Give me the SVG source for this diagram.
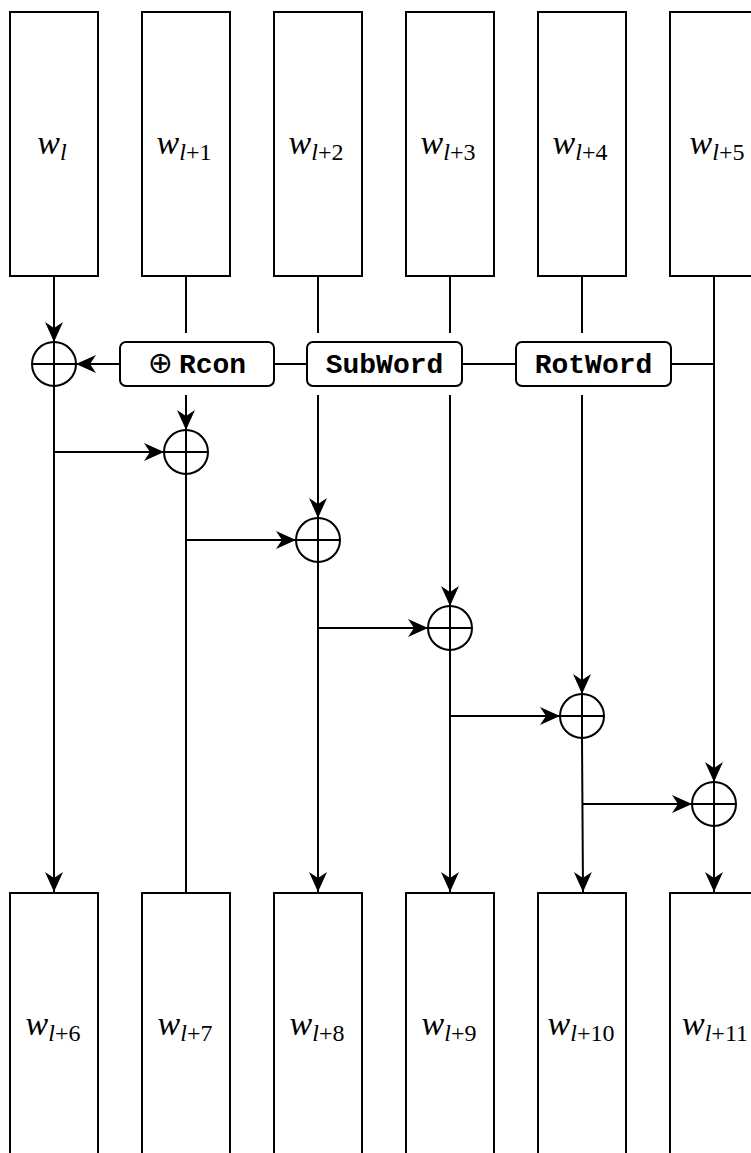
<svg xmlns="http://www.w3.org/2000/svg" width="751" height="1153" viewBox="0 0 751 1153">
<style>
.box{fill:#fff;stroke:#000;stroke-width:2}
.op{fill:#fff;stroke:#000;stroke-width:2}
.ln{fill:none;stroke:#000;stroke-width:2}
.fn{fill:#fff;stroke:#000;stroke-width:2}
.w{font-family:"Liberation Serif",serif;font-style:italic;font-size:34px;fill:#000}
.s{font-size:24px}
.n{font-style:normal}
.tt{font-family:"Liberation Mono",monospace;font-size:28px;font-weight:bold;fill:#000}
.sym{font-family:"DejaVu Sans",sans-serif;font-size:30px;font-weight:normal}
</style>
<defs>
<marker id="ah" markerUnits="userSpaceOnUse" markerWidth="24" markerHeight="24" viewBox="-22 -11 24 22" refX="0" refY="0" orient="auto">
<path d="M0,0 L-20,-9 L-14,0 L-20,9 Z" fill="#000"/>
</marker>
</defs>
<g id="connectors">
<line class="ln" x1="54" y1="276" x2="54" y2="342" marker-end="url(#ah)"/>
<line class="ln" x1="186" y1="276" x2="186" y2="333"/>
<line class="ln" x1="318" y1="276" x2="318" y2="333"/>
<line class="ln" x1="450" y1="276" x2="450" y2="333"/>
<line class="ln" x1="582" y1="276" x2="582" y2="333"/>
<line class="ln" x1="714" y1="276" x2="714" y2="782" marker-end="url(#ah)"/>
<line class="ln" x1="120" y1="364" x2="76" y2="364" marker-end="url(#ah)"/>
<line class="ln" x1="274" y1="364" x2="307" y2="364"/>
<line class="ln" x1="462" y1="364" x2="516" y2="364"/>
<line class="ln" x1="671" y1="364" x2="714" y2="364"/>
<line class="ln" x1="186" y1="395" x2="186" y2="430" marker-end="url(#ah)"/>
<line class="ln" x1="318" y1="395" x2="318" y2="518" marker-end="url(#ah)"/>
<line class="ln" x1="450" y1="395" x2="450" y2="606" marker-end="url(#ah)"/>
<line class="ln" x1="582" y1="395" x2="582" y2="694" marker-end="url(#ah)"/>
<line class="ln" x1="54" y1="452" x2="164" y2="452" marker-end="url(#ah)"/>
<line class="ln" x1="186" y1="540" x2="296" y2="540" marker-end="url(#ah)"/>
<line class="ln" x1="318" y1="628" x2="428" y2="628" marker-end="url(#ah)"/>
<line class="ln" x1="450" y1="716" x2="560" y2="716" marker-end="url(#ah)"/>
<line class="ln" x1="582" y1="804" x2="692" y2="804" marker-end="url(#ah)"/>
<line class="ln" x1="54" y1="386" x2="54" y2="892" marker-end="url(#ah)"/>
<line class="ln" x1="186" y1="474" x2="186" y2="892"/>
<line class="ln" x1="318" y1="562" x2="318" y2="892" marker-end="url(#ah)"/>
<line class="ln" x1="450" y1="650" x2="450" y2="892" marker-end="url(#ah)"/>
<line class="ln" x1="582" y1="738" x2="583" y2="892" marker-end="url(#ah)"/>
<line class="ln" x1="714" y1="826" x2="714" y2="892" marker-end="url(#ah)"/>
</g>
<g id="w0"><rect class="box" x="10" y="12" width="88" height="264"/><text class="w" x="52" y="154" text-anchor="middle">w<tspan class="s" dy="6">l</tspan></text></g>
<g id="w1"><rect class="box" x="142" y="12" width="88" height="264"/><text class="w" x="184" y="154" text-anchor="middle">w<tspan class="s" dy="6">l</tspan><tspan class="s n">+1</tspan></text></g>
<g id="w2"><rect class="box" x="274" y="12" width="88" height="264"/><text class="w" x="316" y="154" text-anchor="middle">w<tspan class="s" dy="6">l</tspan><tspan class="s n">+2</tspan></text></g>
<g id="w3"><rect class="box" x="406" y="12" width="88" height="264"/><text class="w" x="448" y="154" text-anchor="middle">w<tspan class="s" dy="6">l</tspan><tspan class="s n">+3</tspan></text></g>
<g id="w4"><rect class="box" x="538" y="12" width="88" height="264"/><text class="w" x="580" y="154" text-anchor="middle">w<tspan class="s" dy="6">l</tspan><tspan class="s n">+4</tspan></text></g>
<g id="w5"><rect class="box" x="670" y="12" width="88" height="264"/><text class="w" x="717" y="154" text-anchor="middle">w<tspan class="s" dy="6">l</tspan><tspan class="s n">+5</tspan></text></g>
<g id="rcon"><rect class="fn" x="120" y="342" width="154" height="44" rx="6"/><text class="tt" x="197" y="373" text-anchor="middle"><tspan class="sym">⊕</tspan><tspan dx="6">Rcon</tspan></text></g>
<g id="subword"><rect class="fn" x="307" y="342" width="155" height="44" rx="6"/><text class="tt" x="384.5" y="373" text-anchor="middle">SubWord</text></g>
<g id="rotword"><rect class="fn" x="516" y="342" width="155" height="44" rx="6"/><text class="tt" x="593.5" y="373" text-anchor="middle">RotWord</text></g>
<g id="x0"><circle class="op" cx="54" cy="364" r="22"/><path class="ln" d="M32,364H76M54,342V386"/></g>
<g id="x1"><circle class="op" cx="186" cy="452" r="22"/><path class="ln" d="M164,452H208M186,430V474"/></g>
<g id="x2"><circle class="op" cx="318" cy="540" r="22"/><path class="ln" d="M296,540H340M318,518V562"/></g>
<g id="x3"><circle class="op" cx="450" cy="628" r="22"/><path class="ln" d="M428,628H472M450,606V650"/></g>
<g id="x4"><circle class="op" cx="582" cy="716" r="22"/><path class="ln" d="M560,716H604M582,694V738"/></g>
<g id="x5"><circle class="op" cx="714" cy="804" r="22"/><path class="ln" d="M692,804H736M714,782V826"/></g>
<g id="w6"><rect class="box" x="10" y="893" width="88" height="264"/><text class="w" x="53" y="1035" text-anchor="middle">w<tspan class="s" dy="6">l</tspan><tspan class="s n">+6</tspan></text></g>
<g id="w7"><rect class="box" x="142" y="893" width="88" height="264"/><text class="w" x="185" y="1035" text-anchor="middle">w<tspan class="s" dy="6">l</tspan><tspan class="s n">+7</tspan></text></g>
<g id="w8"><rect class="box" x="274" y="893" width="88" height="264"/><text class="w" x="317" y="1035" text-anchor="middle">w<tspan class="s" dy="6">l</tspan><tspan class="s n">+8</tspan></text></g>
<g id="w9"><rect class="box" x="406" y="893" width="88" height="264"/><text class="w" x="449" y="1035" text-anchor="middle">w<tspan class="s" dy="6">l</tspan><tspan class="s n">+9</tspan></text></g>
<g id="w10"><rect class="box" x="538" y="893" width="88" height="264"/><text class="w" x="581" y="1035" text-anchor="middle">w<tspan class="s" dy="6">l</tspan><tspan class="s n">+10</tspan></text></g>
<g id="w11"><rect class="box" x="670" y="893" width="88" height="264"/><text class="w" x="715" y="1035" text-anchor="middle">w<tspan class="s" dy="6">l</tspan><tspan class="s n">+11</tspan></text></g>
</svg>
